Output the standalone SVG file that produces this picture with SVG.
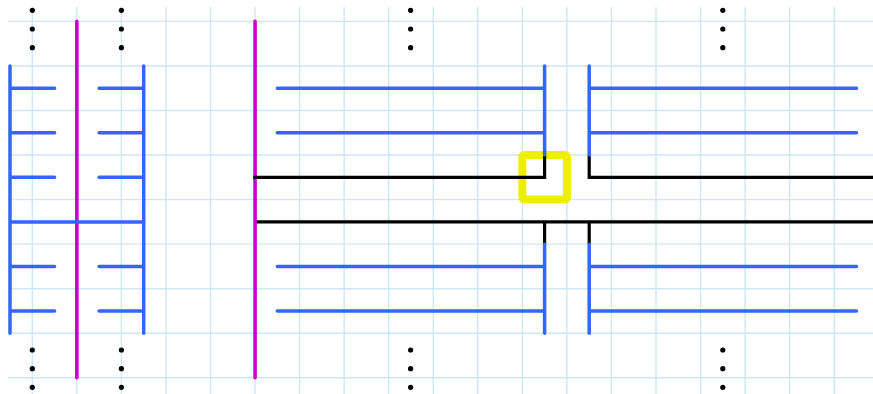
<svg xmlns="http://www.w3.org/2000/svg" width="873" height="394" viewBox="0 0 873 394">
<style>
.g{stroke:#cfe6f6;stroke-width:1.4;fill:none}
.b{stroke:#3366ff;stroke-width:3.5;fill:none;stroke-linecap:round;stroke-linejoin:round}
.k{stroke:#000;stroke-width:3.2;fill:none;stroke-linecap:butt;stroke-linejoin:miter}
.m{stroke:#cc00cc;stroke-width:3.6;fill:none;stroke-linecap:round}
.y{stroke:#eeee00;stroke-width:8;fill:none;stroke-linejoin:round}
.d{fill:#000}
</style>
<rect width="873" height="394" fill="#fff"/>
<g id="grid" class="g">
<path d="M32.3 7V394M76.85 7V394M121.4 7V394M165.95 7V394M210.5 7V394M255.05 7V394M299.6 7V394M344.15 7V394M388.7 7V394M433.25 7V394M477.8 7V394M522.35 7V394M566.9 7V394M611.45 7V394M656 7V394M700.55 7V394M745.1 7V394M789.65 7V394M834.2 7V394"/>
<path d="M8 21.4H873M8 65.95H873M8 110.5H873M8 155.05H873M8 199.6H873M8 244.15H873M8 288.7H873M8 333.25H873M8 377.8H873"/>
</g>
<g id="highlight">
<rect class="y" x="522.35" y="155.05" width="44.55" height="44.55" rx="2"/>
</g>
<g id="rails">
<path class="m" d="M76.85 21.4V377.8"/>
</g>
<g id="left-cluster">
<path class="b" d="M10 65.95V333.25M10 88.2H54.6M10 132.8H54.6M10 177.3H54.6M10 266.4H54.6M10 311H54.6M10 221.9H143.7"/>
<path class="b" d="M143.7 65.95V333.25M99.1 88.2H143.7M99.1 132.8H143.7M99.1 177.3H143.7M99.1 266.4H143.7M99.1 311H143.7"/>
</g>
<g id="connectors">
<path class="k" d="M255.05 221.9H873M544.6 221.9V244.15M589.2 221.9V244.15"/>
<path class="m" d="M255.05 21.4V377.8"/>
<path class="k" d="M253.3 177.3H544.6V155.05M589.2 155.05V177.3H873"/>
</g>
<g id="upper-left-block">
<path class="b" d="M277.3 88.2H544.6M277.3 132.8H544.6M544.6 65.95V155.05"/>
</g>
<g id="upper-right-block">
<path class="b" d="M589.2 88.2H856.5M589.2 132.8H856.5M589.2 65.95V155.05"/>
</g>
<g id="lower-left-block">
<path class="b" d="M277.3 266.4H544.6M277.3 311H544.6M544.6 244.15V333.25"/>
</g>
<g id="lower-right-block">
<path class="b" d="M589.2 266.4H856.5M589.2 311H856.5M589.2 244.15V333.25"/>
</g>
<g id="dots" class="d">
<circle cx="32.3" cy="10.3" r="2.6"/><circle cx="32.3" cy="29" r="2.6"/><circle cx="32.3" cy="47.7" r="2.6"/>
<circle cx="121.4" cy="10.3" r="2.6"/><circle cx="121.4" cy="29" r="2.6"/><circle cx="121.4" cy="47.7" r="2.6"/>
<circle cx="410.6" cy="10.3" r="2.6"/><circle cx="410.6" cy="29" r="2.6"/><circle cx="410.6" cy="47.7" r="2.6"/>
<circle cx="722.8" cy="10.3" r="2.6"/><circle cx="722.8" cy="29" r="2.6"/><circle cx="722.8" cy="47.7" r="2.6"/>
<circle cx="32.3" cy="350" r="2.6"/><circle cx="32.3" cy="368.7" r="2.6"/><circle cx="32.3" cy="387.3" r="2.6"/>
<circle cx="121.4" cy="350" r="2.6"/><circle cx="121.4" cy="368.7" r="2.6"/><circle cx="121.4" cy="387.3" r="2.6"/>
<circle cx="410.6" cy="350" r="2.6"/><circle cx="410.6" cy="368.7" r="2.6"/><circle cx="410.6" cy="387.3" r="2.6"/>
<circle cx="722.8" cy="350" r="2.6"/><circle cx="722.8" cy="368.7" r="2.6"/><circle cx="722.8" cy="387.3" r="2.6"/>
</g>
</svg>
